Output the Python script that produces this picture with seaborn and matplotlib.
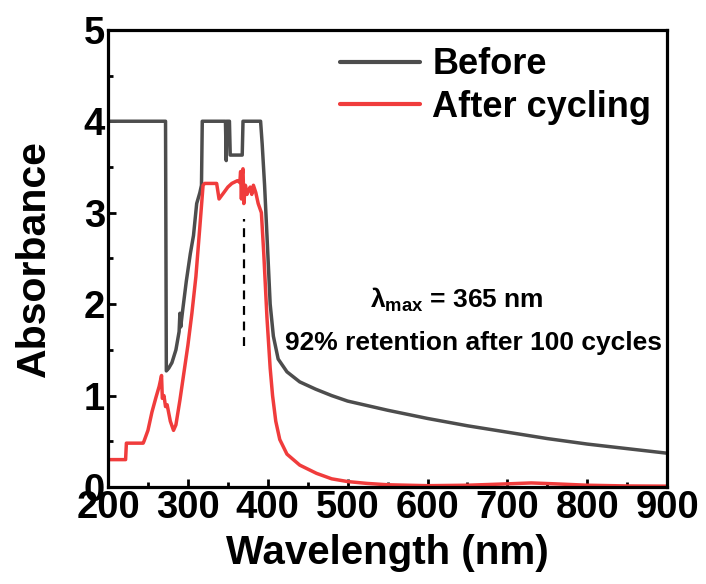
import numpy as np
import pandas as pd
import seaborn as sns
import matplotlib.pyplot as plt
from matplotlib.ticker import MultipleLocator

# =========================================================
# DATA
# =========================================================

before_wl = [200, 272, 273, 276, 280, 285, 289, 290, 291, 293, 298, 303, 307, 311,
             315, 317, 318, 347, 348, 349, 352, 353, 368, 369, 391, 393, 396, 399,
             403, 407, 413, 424, 440, 460, 480, 500, 550, 600, 650, 700, 750, 800,
             850, 900]
before_abs = [4.0, 4.0, 1.27, 1.3, 1.36, 1.5, 1.7, 1.9, 1.75, 1.9, 2.25, 2.55, 2.75, 3.1,
              3.22, 3.3, 4.0, 4.0, 3.57, 4.0, 4.0, 3.63, 3.63, 4.0, 4.0, 3.75, 3.3, 2.75,
              2.0, 1.65, 1.4, 1.26, 1.15, 1.07, 1.0, 0.94, 0.84, 0.75, 0.67, 0.6, 0.53,
              0.47, 0.42, 0.37]

after_wl = [200, 222, 223, 244, 245, 250, 255, 260, 264, 267, 268, 270, 272, 274,
            278, 282, 285, 290, 295, 300, 305, 310, 315, 319, 321, 336, 339, 345,
            350, 355, 362, 365, 366, 367, 368, 369, 370, 372, 374, 376, 378, 380,
            382, 385, 388, 392, 395, 399, 403, 406, 410, 415, 424, 440, 461, 480,
            500, 524, 550, 600, 650, 700, 730, 760, 800, 850, 900]
after_abs = [0.3, 0.3, 0.48, 0.48, 0.5, 0.62, 0.82, 0.98, 1.1, 1.22, 0.97, 1.0, 0.88, 0.9,
             0.72, 0.62, 0.68, 0.95, 1.25, 1.55, 1.9, 2.3, 2.85, 3.3, 3.32, 3.32, 3.15, 3.22,
             3.28, 3.32, 3.35, 3.33, 3.45, 3.15, 3.42, 3.48, 3.1, 3.3, 3.2, 3.25, 3.28, 3.2,
             3.3, 3.22, 3.1, 3.0, 2.55, 1.85, 1.3, 1.0, 0.72, 0.52, 0.36, 0.24, 0.15, 0.09,
             0.06, 0.04, 0.025, 0.015, 0.02, 0.035, 0.045, 0.035, 0.02, 0.012, 0.01]

series_names = ["Before", "After cycling"]
series_colors = ["#4d4d4d", "#f03c3c"]

lambda_max_wl = 370
lambda_line_abs = [1.54, 2.93]

# =========================================================
# STYLE
# =========================================================

sns.set_style("ticks")
plt.rcParams["font.family"] = ["Liberation Sans", "DejaVu Sans"]
plt.rcParams["font.weight"] = "bold"
plt.rcParams["text.color"] = "black"
plt.rcParams["axes.labelcolor"] = "black"
plt.rcParams["xtick.color"] = "black"
plt.rcParams["ytick.color"] = "black"
plt.rcParams["mathtext.fontset"] = "custom"
plt.rcParams["mathtext.rm"] = "Liberation Sans:bold"
plt.rcParams["mathtext.bf"] = "Liberation Sans:bold"
plt.rcParams["mathtext.it"] = "Liberation Sans:bold"

df = pd.concat([
    pd.DataFrame({"wl": before_wl, "abs": before_abs, "series": series_names[0]}),
    pd.DataFrame({"wl": after_wl, "abs": after_abs, "series": series_names[1]}),
])

# =========================================================
# PLOT
# =========================================================

fig = plt.figure(figsize=(7.06, 5.84), dpi=100)
ax = fig.add_axes([0.153, 0.166, 0.792, 0.783])

sns.lineplot(
    data=df,
    x="wl",
    y="abs",
    hue="series",
    palette=series_colors,
    estimator=None,
    sort=False,
    linewidth=2.5,
    ax=ax
)

ax.plot(
    [lambda_max_wl, lambda_max_wl],
    lambda_line_abs,
    color="black",
    linestyle=(0, (4, 3)),
    linewidth=1.6
)

ax.set_xlim(200, 900)
ax.set_ylim(0, 5)

ax.xaxis.set_major_locator(MultipleLocator(100))
ax.xaxis.set_minor_locator(MultipleLocator(50))
ax.yaxis.set_major_locator(MultipleLocator(1))
ax.yaxis.set_minor_locator(MultipleLocator(0.5))

ax.tick_params(which="major", direction="in", length=6, width=2,
               labelsize=27.5, pad=2, colors="black")
ax.tick_params(which="minor", direction="in", length=3.5, width=2,
               colors="black")

for s in ax.spines.values():
    s.set_linewidth(2.3)
    s.set_color("black")

ax.set_xlabel("Wavelength (nm)", fontsize=29, fontweight="bold",
              labelpad=6, color="black")
ax.set_ylabel("Absorbance", fontsize=29.5, fontweight="bold",
              labelpad=22, color="black")

ax.text(637, 2.05, r"$\lambda_{max}$ = 365 nm", fontsize=19,
        fontweight="bold", ha="center", va="center", color="black")
ax.text(658, 1.57, "92% retention after 100 cycles", fontsize=19,
        fontweight="bold", ha="center", va="center", color="black")

leg = ax.legend(
    loc="upper left",
    bbox_to_anchor=(0.415, 0.962),
    frameon=False,
    fontsize=26,
    handlelength=2.2,
    handletextpad=0.35,
    labelspacing=0.22,
    borderpad=0,
    borderaxespad=0
)
for line in leg.get_lines():
    line.set_linewidth(3)
for t in leg.get_texts():
    t.set_color("black")

plt.savefig("out.png", dpi=100)
plt.close()
